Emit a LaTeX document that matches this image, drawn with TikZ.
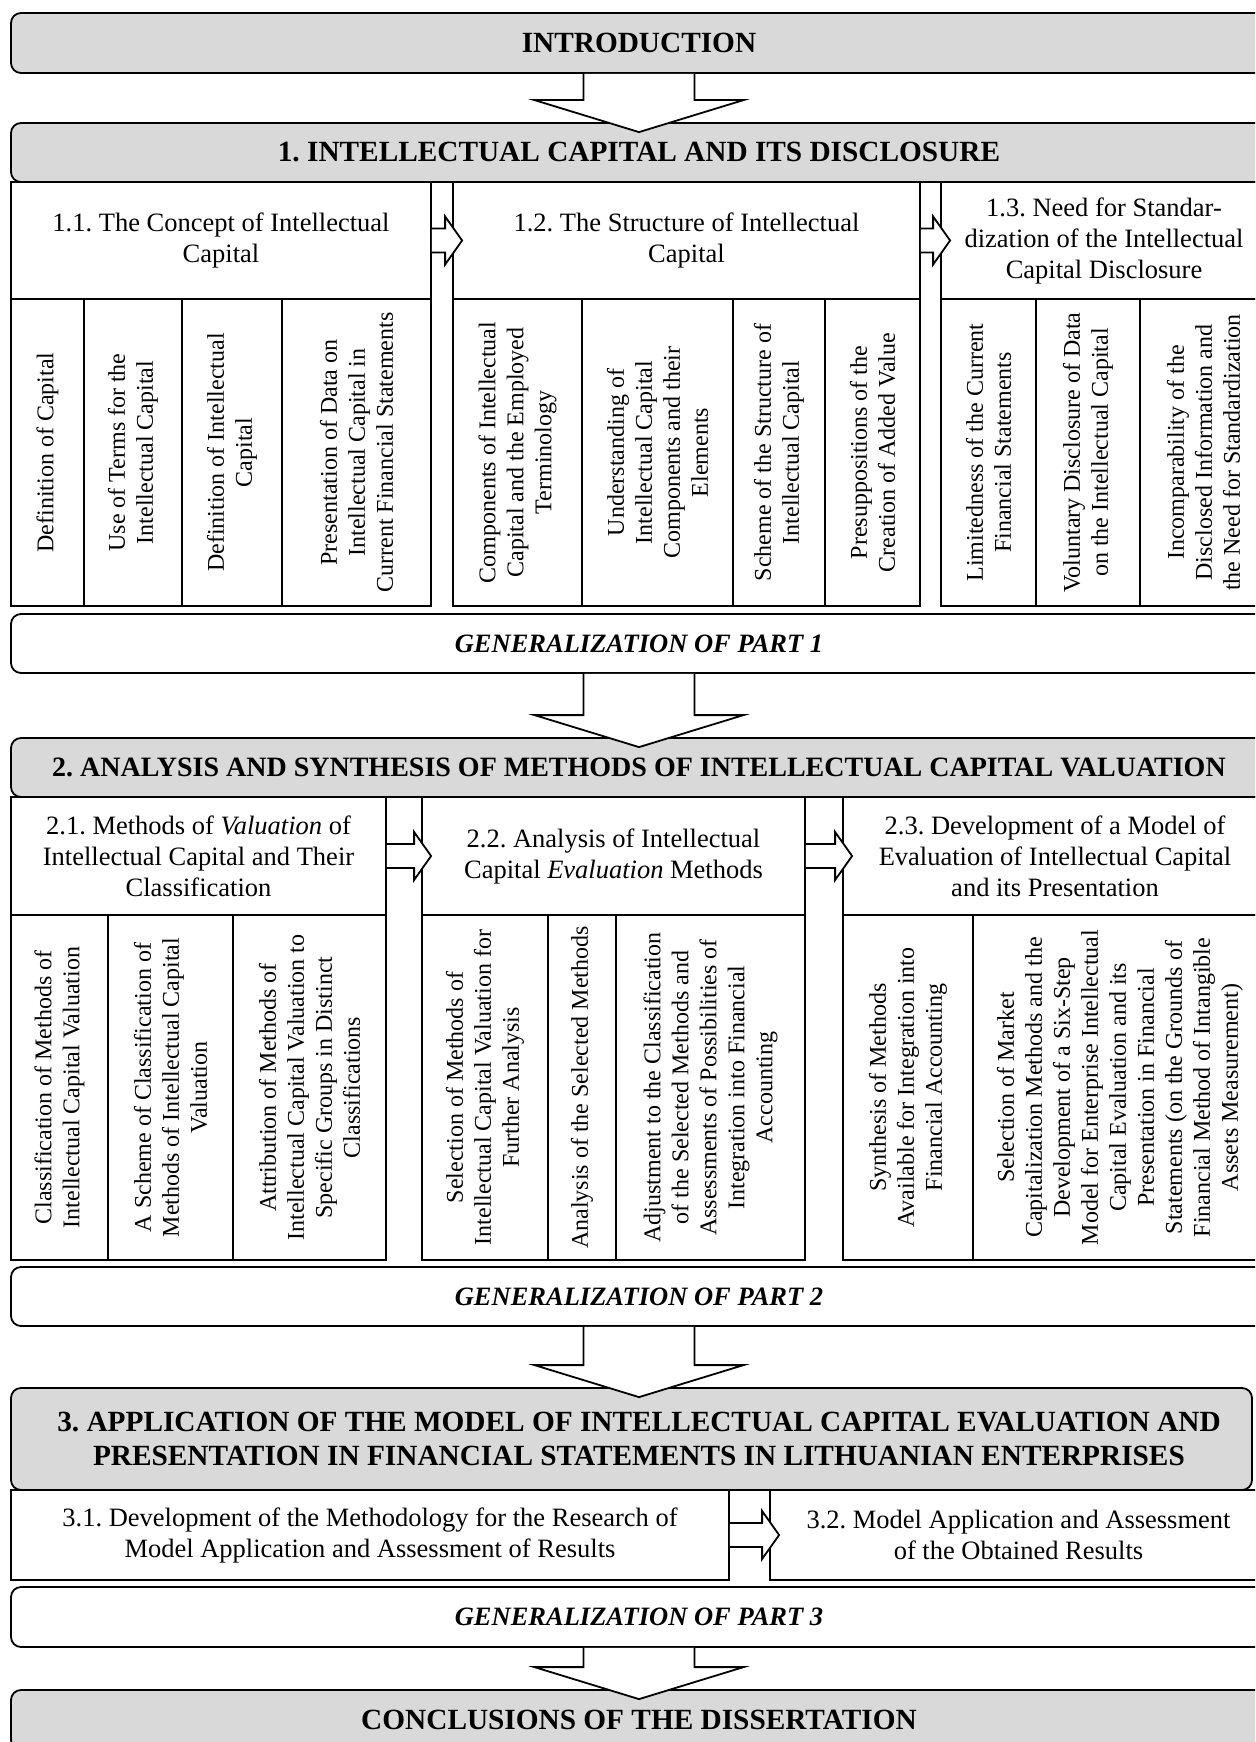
\documentclass[tikz,border=0pt]{standalone}
\usepackage{fontspec}
\setmainfont{Liberation Serif}
\usetikzlibrary{calc}
\definecolor{headgray}{RGB}{217,217,217}
\frenchspacing
\begin{document}
\begin{tikzpicture}[x=1pt,y=-1pt,line width=1.8pt,sechead/.style={shape=rectangle,draw=black,fill=headgray,rounded corners=10pt,align=center,font=\fontsize{29.3}{34}\selectfont\bfseries},genbox/.style={shape=rectangle,draw=black,fill=white,rounded corners=10pt,font=\fontsize{26.5}{31}\selectfont\bfseries\itshape},subbox/.style={shape=rectangle,draw=black,fill=white,align=center,inner sep=2pt,font=\fontsize{26.5}{31}\selectfont},colbox/.style={subbox,rotate=90,font=\fontsize{24}{28}\selectfont},barrow/.style={draw=black,fill=white,line join=miter}]
\def\fullw{1256};
\def\cx{639};
\def\tya{240.5};
\def\tha{117};
\def\cya{452.5};
\def\cha{307};
\def\tyb{856};
\def\thb{118};
\def\cyb{1087.5};
\def\chb{345};
\def\arrowdown#1#2{\draw[barrow] let \p1=(#1.south), \p2=(#2.north) in (\x1-55.5pt,\y1) -- (\x1-55.5pt,\y2+22pt) -- (\x1-104.5pt,\y2+22pt) -- (\x1,\y2-10pt) -- (\x1+104.5pt,\y2+22pt) -- (\x1+55.5pt,\y2+22pt) -- (\x1+55.5pt,\y1);}
\def\arrowright#1#2{\draw[barrow] let \p1=(#1.east), \p2=(#2.west) in (\x1,\y1+12pt) -- (\x2-7pt,\y1+12pt) -- (\x2-7pt,\y1+24pt) -- (\x2+10pt,\y1) -- (\x2-7pt,\y1-24pt) -- (\x2-7pt,\y1-12pt) -- (\x1,\y1-12pt);}

\useasboundingbox (0,0) rectangle (1255,1742);
\clip (0,0) rectangle (1255,1742);

\node[sechead,minimum width=\fullw,minimum height=60] (intro) at (\cx,43) {INTRODUCTION};

\node[sechead,minimum width=\fullw,minimum height=59] (s1) at (\cx,152.5) {1. INTELLECTUAL CAPITAL AND ITS DISCLOSURE};
\node[subbox,minimum width=420,minimum height=\tha] (t11) at (221,\tya) {1.1. The Concept of Intellectual\\Capital};
\node[subbox,minimum width=467,minimum height=\tha] (t12) at (686.5,\tya) {1.2. The Structure of Intellectual\\Capital};
\node[subbox,minimum width=326,minimum height=\tha] (t13) at (1104,\tya) {1.3. Need for Standar-\\dization of the Intellectual\\Capital Disclosure};

\node[colbox,minimum width=\cha,minimum height=73] (c11a) at (47.5,\cya) {Definition of Capital};
\node[colbox,minimum width=\cha,minimum height=98] (c11b) at (133,\cya) {Use of Terms for the\\Intellectual Capital};
\node[colbox,minimum width=\cha,minimum height=100] (c11c) at (232,\cya) {Definition of Intellectual\\Capital};
\node[colbox,minimum width=\cha,minimum height=149] (c11d) at (356.5,\cya) {Presentation of Data on\\Intellectual Capital in\\Current Financial Statements};
\node[colbox,minimum width=\cha,minimum height=129] (c12a) at (517.5,\cya) {Components of Intellectual\\Capital and the Employed\\Terminology};
\node[colbox,minimum width=\cha,minimum height=151] (c12b) at (657.5,\cya) {Understanding of\\Intellectual Capital\\Components and their\\Elements};
\node[colbox,minimum width=\cha,minimum height=92] (c12c) at (779,\cya) {Scheme of the Structure of\\Intellectual Capital};
\node[colbox,minimum width=\cha,minimum height=95] (c12d) at (872.5,\cya) {Presuppositions of the\\Creation of Added Value};
\node[colbox,minimum width=\cha,minimum height=95] (c13a) at (988.5,\cya) {Limitedness of the Current\\Financial Statements};
\node[colbox,minimum width=\cha,minimum height=104] (c13b) at (1088,\cya) {Voluntary Disclosure of Data\\on the Intellectual Capital};
\node[colbox,minimum width=\cha,minimum height=127] (c13c) at (1203.5,\cya) {Incomparability of the\\Disclosed Information and\\the Need for Standardization};

\node[genbox,minimum width=\fullw,minimum height=59] (g1) at (\cx,643.5) {GENERALIZATION OF PART 1};

\node[sechead,minimum width=\fullw,minimum height=59,font=\fontsize{28}{33}\selectfont\bfseries] (s2) at (\cx,767.5) {2. ANALYSIS AND SYNTHESIS OF METHODS OF INTELLECTUAL CAPITAL VALUATION};
\node[subbox,minimum width=375,minimum height=\thb] (t21) at (198.5,\tyb) {2.1. Methods of \textit{Valuation} of\\Intellectual Capital and Their\\Classification};
\node[subbox,minimum width=383,minimum height=\thb] (t22) at (613.5,\tyb) {2.2. Analysis of Intellectual\\Capital \textit{Evaluation} Methods};
\node[subbox,minimum width=424,minimum height=\thb] (t23) at (1055,\tyb) {2.3. Development of a Model of\\Evaluation of Intellectual Capital\\and its Presentation};

\node[colbox,minimum width=\chb,minimum height=97] (c21a) at (59.5,\cyb) {Classification of Methods of\\Intellectual Capital Valuation};
\node[colbox,minimum width=\chb,minimum height=125] (c21b) at (170.5,\cyb) {A Scheme of Classification of\\Methods of Intellectual Capital\\Valuation};
\node[colbox,minimum width=\chb,minimum height=153] (c21c) at (309.5,\cyb) {Attribution of Methods of\\Intellectual Capital Valuation to\\Specific Groups in Distinct\\Classifications};
\node[colbox,minimum width=\chb,minimum height=126] (c22a) at (485,\cyb) {Selection of Methods of\\Intellectual Capital Valuation for\\Further Analysis};
\node[colbox,minimum width=\chb,minimum height=68] (c22b) at (582,\cyb) {Analysis of the Selected Methods};
\node[colbox,minimum width=\chb,minimum height=189] (c22c) at (710.5,\cyb) {Adjustment to the Classification\\of the Selected Methods and\\Assessments of Possibilities of\\Integration into Financial\\Accounting};
\node[colbox,minimum width=\chb,minimum height=130] (c23a) at (908,\cyb) {Synthesis of Methods\\Available for Integration into\\Financial Accounting};
\node[colbox,minimum width=\chb,minimum height=294] (c23b) at (1120,\cyb) {Selection of Market\\Capitalization Methods and the\\Development of a Six-Step\\Model for Enterprise Intellectual\\Capital Evaluation and its\\Presentation in Financial\\Statements (on the Grounds of\\Financial Method of Intangible\\Assets Measurement)};

\node[genbox,minimum width=\fullw,minimum height=59] (g2) at (\cx,1296.5) {GENERALIZATION OF PART 2};

\node[sechead,minimum width=1241,minimum height=102] (s3) at (631.5,1439) {};
\node[sechead,draw=none,fill=none] (s3title) at (\cx,1439) {3. APPLICATION OF THE MODEL OF INTELLECTUAL CAPITAL EVALUATION AND\\PRESENTATION IN FINANCIAL STATEMENTS IN LITHUANIAN ENTERPRISES};
\node[subbox,minimum width=718,minimum height=90] (t31) at (370,1535) {3.1. Development of the Methodology for the Research of\\Model Application and Assessment of Results};
\node[subbox,minimum width=497,minimum height=90] (t32) at (1018.5,1535) {3.2. Model Application and Assessment\\of the Obtained Results};

\node[genbox,minimum width=\fullw,minimum height=60] (g3) at (\cx,1617) {GENERALIZATION OF PART 3};

\node[sechead,minimum width=\fullw,minimum height=60] (concl) at (\cx,1720) {CONCLUSIONS OF THE DISSERTATION};

\arrowdown{intro}{s1}
\arrowright{t11}{t12}
\arrowright{t12}{t13}
\arrowdown{g1}{s2}
\arrowright{t21}{t22}
\arrowright{t22}{t23}
\arrowdown{g2}{s3}
\arrowright{t31}{t32}
\arrowdown{g3}{concl}
\end{tikzpicture}
\end{document}
